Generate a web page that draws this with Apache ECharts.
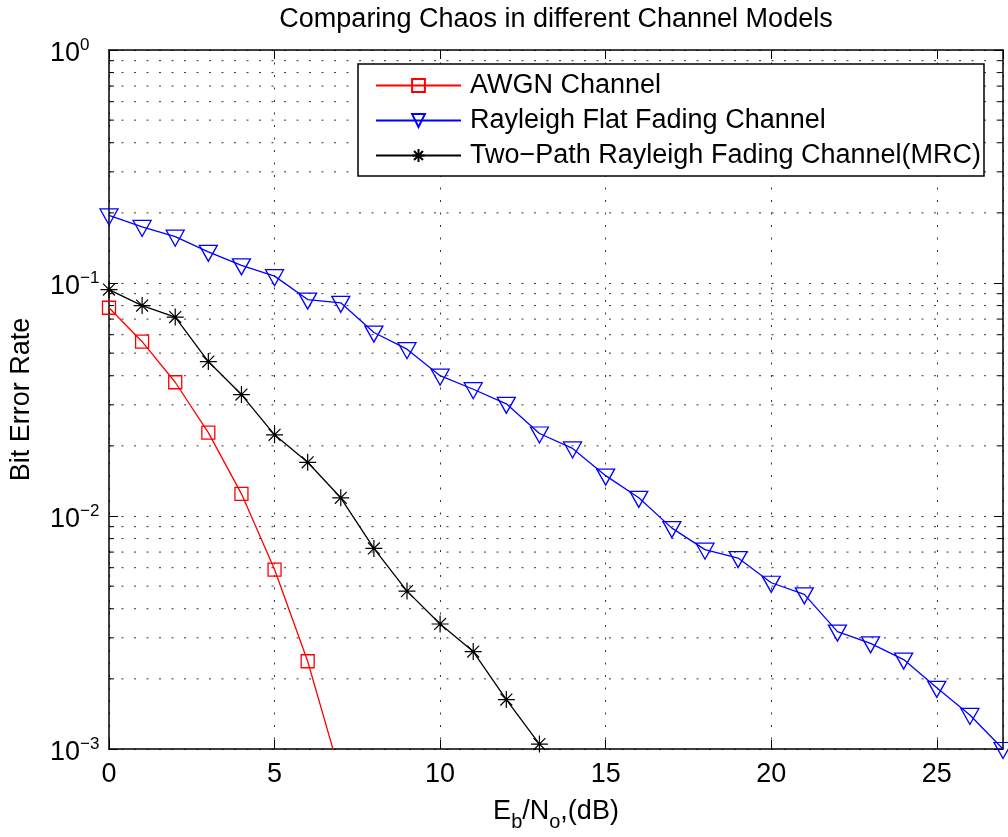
<!DOCTYPE html>
<html>
<head>
<meta charset="utf-8">
<script src="https://cdn.jsdelivr.net/npm/echarts@6/dist/echarts.min.js"></script>
<style>
html,body{margin:0;padding:0;background:#fff;}
#chart{width:1008px;height:837px;}
</style>
</head>
<body>
<div id="chart"></div>
<script>
// ---- data ----
var snrAwgn = [0, 1, 2, 3, 4, 5, 6, 7];
var berAwgn = [0.0783, 0.056, 0.0375, 0.0228, 0.01245, 0.00589, 0.00238, 0.000765];

var snrRayleigh = [0, 1, 2, 3, 4, 5, 6, 7, 8, 9, 10, 11, 12, 13, 14, 15, 16, 17, 18, 19, 20, 21, 22, 23, 24, 25, 26, 27];
var berRayleigh = [0.195, 0.174, 0.158, 0.136, 0.119, 0.107, 0.0849, 0.0822, 0.0613, 0.052, 0.040, 0.035, 0.0303, 0.0226, 0.0195, 0.0149, 0.01197, 0.00887, 0.00717, 0.0066, 0.00517, 0.00461, 0.00319, 0.00284, 0.00242, 0.00183, 0.0014, 0.001];

var snrTwoPath = [0, 1, 2, 3, 4, 5, 6, 7, 8, 9, 10, 11, 12, 13];
var berTwoPath = [0.0937, 0.080, 0.0714, 0.046, 0.0332, 0.0223, 0.0170, 0.01197, 0.00726, 0.00476, 0.00344, 0.00262, 0.00163, 0.00105];

var seriesNames = ['AWGN Channel', 'Rayleigh Flat Fading Channel', 'Two\u2212Path Rayleigh Fading Channel(MRC)'];
var minorYTicks = [0.002, 0.003, 0.004, 0.005, 0.006, 0.007, 0.008, 0.009,
                   0.02, 0.03, 0.04, 0.05, 0.06, 0.07, 0.08, 0.09,
                   0.2, 0.3, 0.4, 0.5, 0.6, 0.7, 0.8, 0.9];
var xMin = 0, xMax = 27, yMin = 0.001, yMax = 1;

function pairs(xs, ys) { return ys.map(function (v, i) { return [xs[i], v]; }); }

var FONT = "'Liberation Sans', Arial, Helvetica, sans-serif";
var chart = echarts.init(document.getElementById('chart'), null, {renderer: 'canvas'});

function yLabel(v) {
  var e = Math.round(Math.log10(v));
  var s = e < 0 ? '\u2212' + (-e) : String(e);
  return '{b|10}{s|' + s + '}';
}

var option = {
  animation: false,
  backgroundColor: '#fff',
  textStyle: {fontFamily: FONT, color: '#000'},
  title: {
    text: 'Comparing Chaos in different Channel Models',
    left: 556, top: 6, textAlign: 'center', padding: 0,
    textStyle: {fontFamily: FONT, fontSize: 27, fontWeight: 'normal', color: '#000'}
  },
  legend: {
    data: seriesNames,
    orient: 'vertical',
    left: 358, top: 64,
    padding: [8, 3, 7, 17],
    itemWidth: 85, itemHeight: 16, itemGap: 8,
    borderColor: '#000', borderWidth: 1.5,
    backgroundColor: '#fff',
    selectedMode: false,
    textStyle: {fontFamily: FONT, fontSize: 27, color: '#000', lineHeight: 26, padding: [0, 0, 0, 4]}
  },
  grid: {left: 109, right: 5, top: 50, bottom: 82, containLabel: false},
  xAxis: [{
    type: 'value', min: xMin, max: xMax, interval: 5, position: 'bottom',
    name: '{n|E}{s|b}{n|/N}{s|o}{n|,(dB)}',
    nameLocation: 'middle', nameGap: 49,
    nameTextStyle: {
      rich: {
        n: {fontFamily: FONT, fontSize: 27, lineHeight: 27, verticalAlign: 'top', color: '#000'},
        s: {fontFamily: FONT, fontSize: 20, lineHeight: 20, verticalAlign: 'top', padding: [14, 0, 0, 0], color: '#000'}
      }
    },
    axisLine: {show: true, onZero: false, lineStyle: {color: '#000', width: 1.5}},
    axisTick: {show: true, inside: true, length: 9, lineStyle: {color: '#000', width: 1}},
    axisLabel: {show: true, fontFamily: FONT, fontSize: 27, color: '#000', margin: 12, showMaxLabel: false},
    splitLine: {show: true, lineStyle: {color: '#333', width: 1, type: [2, 10.5]}}
  }, {
    type: 'value', min: xMin, max: xMax, interval: 5, position: 'top',
    axisLine: {show: true, onZero: false, lineStyle: {color: '#000', width: 1.5}},
    axisTick: {show: true, inside: true, length: 9, lineStyle: {color: '#000', width: 1}},
    axisLabel: {show: false},
    splitLine: {show: false}
  }],
  yAxis: [{
    type: 'log', logBase: 10, min: yMin, max: yMax, position: 'left',
    name: 'Bit Error Rate', nameLocation: 'middle', nameGap: 74, nameRotate: 90,
    nameTextStyle: {fontFamily: FONT, fontSize: 27, color: '#000'},
    axisLine: {show: true, onZero: false, lineStyle: {color: '#000', width: 1.5}},
    axisTick: {show: true, inside: true, length: 9, lineStyle: {color: '#000', width: 1}},
    axisLabel: {
      show: true, align: 'left', margin: 59, formatter: yLabel,
      rich: {
        b: {fontFamily: FONT, fontSize: 27, lineHeight: 27, padding: [8, 0, 0, 0], color: '#000'},
        s: {fontFamily: FONT, fontSize: 17, lineHeight: 17, verticalAlign: 'top', color: '#000'}
      }
    },
    splitLine: {show: true, lineStyle: {color: '#333', width: 1, type: [2, 10.5]}}
  }, {
    type: 'log', logBase: 10, min: yMin, max: yMax, position: 'right',
    axisLine: {show: true, onZero: false, lineStyle: {color: '#000', width: 1.5}},
    axisTick: {show: true, inside: true, length: 9, lineStyle: {color: '#000', width: 1}},
    axisLabel: {show: false},
    splitLine: {show: false}
  }],
  series: [{
    type: 'custom',
    name: '_minor',
    silent: true,
    z: 1,
    xAxisIndex: 0, yAxisIndex: 0,
    encode: {x: 0, y: 1},
    data: minorYTicks.map(function (v) { return [xMin, v]; }),
    renderItem: function (params, api) {
      var v = api.value(1);
      var a = api.coord([xMin, v]);
      var b = api.coord([xMax, v]);
      return {
        type: 'group',
        children: [
          {type: 'line', shape: {x1: a[0], y1: a[1], x2: b[0], y2: b[1]},
           style: {stroke: '#333', lineWidth: 1, lineDash: [2, 10.5]}},
          {type: 'line', shape: {x1: a[0], y1: a[1], x2: a[0] + 5, y2: a[1]},
           style: {stroke: '#000', lineWidth: 1}},
          {type: 'line', shape: {x1: b[0] - 5, y1: b[1], x2: b[0], y2: b[1]},
           style: {stroke: '#000', lineWidth: 1}}
        ]
      };
    }
  }, {
    name: seriesNames[0], type: 'line', z: 3,
    data: pairs(snrAwgn, berAwgn),
    symbol: 'rect', symbolSize: 13,
    lineStyle: {color: '#ff0000', width: 1.3},
    itemStyle: {color: 'transparent', borderColor: '#ff0000', borderWidth: 1.3},
    emphasis: {disabled: true}
  }, {
    name: seriesNames[1], type: 'line', z: 3,
    data: pairs(snrRayleigh, berRayleigh),
    symbol: 'path://M0,0L20,0L10,17.3Z', symbolSize: [18, 16], symbolOffset: [0, 1.5],
    lineStyle: {color: '#0000ff', width: 1.3},
    itemStyle: {color: 'transparent', borderColor: '#0000ff', borderWidth: 1.3},
    emphasis: {disabled: true}
  }, {
    name: seriesNames[2], type: 'line', z: 3,
    data: pairs(snrTwoPath, berTwoPath),
    symbol: 'path://M10,0L10,20M0,10L20,10M3,3L17,17M3,17L17,3', symbolSize: 17,
    lineStyle: {color: '#000000', width: 1.3},
    itemStyle: {color: 'transparent', borderColor: '#000000', borderWidth: 1.2},
    emphasis: {disabled: true}
  }]
};
chart.setOption(option);
</script>
</body>
</html>
